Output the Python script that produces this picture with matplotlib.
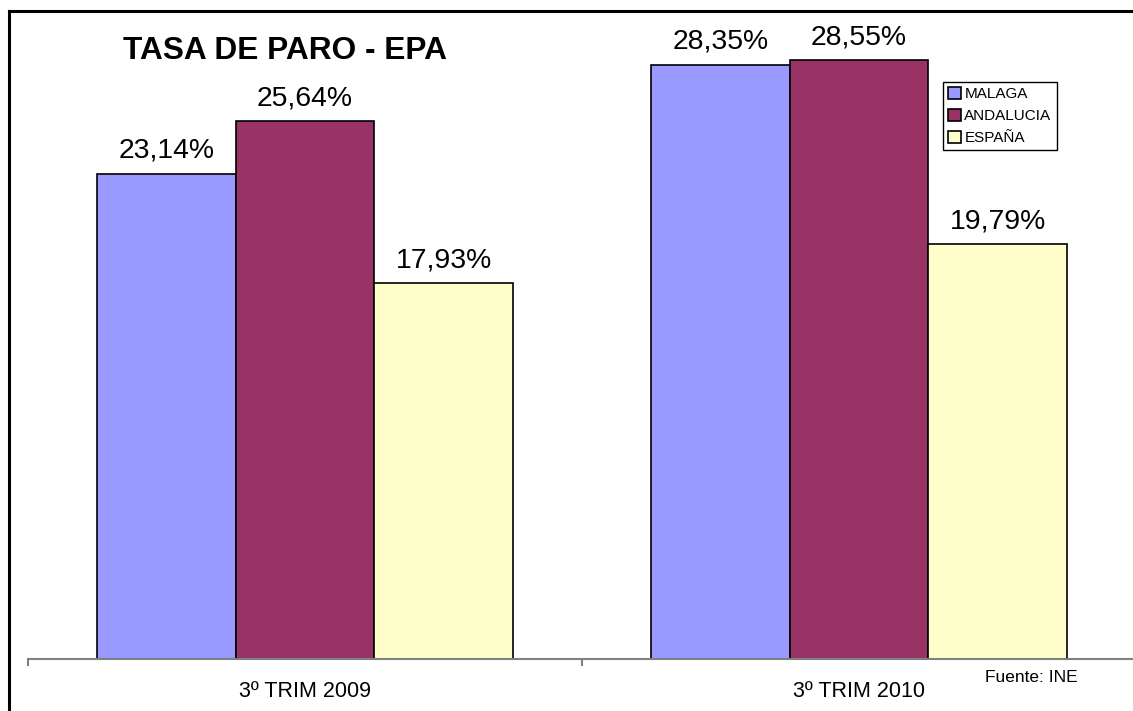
import matplotlib
matplotlib.use("Agg")
import matplotlib.pyplot as plt
from matplotlib.lines import Line2D
import numpy as np

plt.rcParams['font.family'] = ['Liberation Sans', 'DejaVu Sans']

# data
periods = ["3º TRIM 2009", "3º TRIM 2010"]
series = ["MALAGA", "ANDALUCIA", "ESPAÑA"]
malaga = [23.14, 28.35]
andalucia = [25.64, 28.55]
espana = [17.93, 19.79]
colors = ["#9999FF", "#993366", "#FFFFCC"]

W, H = 1133, 711
fig = plt.figure(figsize=(W / 100, H / 100), dpi=100)
ax = fig.add_axes([28 / W, 52 / H, 1108 / W, 629 / H])

x = np.arange(len(periods))
width = 0.25
for i, (name, vals) in enumerate(zip(series, [malaga, andalucia, espana])):
    pos = x + (i - 1) * width
    ax.bar(pos, vals, width, color=colors[i], edgecolor="black", linewidth=1.2, label=name)
    for p, v in zip(pos, vals):
        ax.annotate(("%.2f%%" % v).replace(".", ","), (p, v), xytext=(0, 11.5),
                    textcoords="offset points", ha="center", va="baseline", fontsize=20.4)

ax.set_xlim(-0.5, 1.5)
ax.set_ylim(0, 30)

for s in ["top", "left", "right"]:
    ax.spines[s].set_visible(False)
ax.spines["bottom"].set_color("#808080")
ax.spines["bottom"].set_linewidth(1.5)
ax.set_yticks([])

ax.set_xticks([-0.5, 0.5, 1.5])
ax.set_xticklabels([])
ax.tick_params(axis="x", which="major", length=5, width=1.5, color="#808080", direction="out")
ax.set_xticks(x, minor=True)
ax.set_xticklabels(periods, minor=True, fontsize=15.5)
ax.tick_params(axis="x", which="minor", length=0, pad=15.5)

fig.text(123 / W, 1 - 59 / H, "TASA DE PARO - EPA", fontsize=22.8, fontweight="bold",
         ha="left", va="baseline")
fig.text(985 / W, 1 - 677 / H, "Fuente: INE", fontsize=12.5, ha="left", va="center")

leg = fig.legend(loc="upper left", bbox_to_anchor=(943 / W, 1 - 82 / H), borderaxespad=0,
                 fontsize=11, handlelength=0.8, handleheight=0.8, handletextpad=0.25,
                 labelspacing=0.5, borderpad=0.35, fancybox=False, framealpha=1,
                 edgecolor="black")
leg.get_frame().set_linewidth(1)
for h in leg.legend_handles:
    h.set_linewidth(1.2)

# border around the chart
fig.add_artist(Line2D([9 / W, 9 / W], [0, 1 - 11 / H], color="black", linewidth=2.2))
fig.add_artist(Line2D([9 / W, 1], [1 - 11 / H, 1 - 11 / H], color="black", linewidth=2.2))

fig.savefig("out.png", dpi=100)
